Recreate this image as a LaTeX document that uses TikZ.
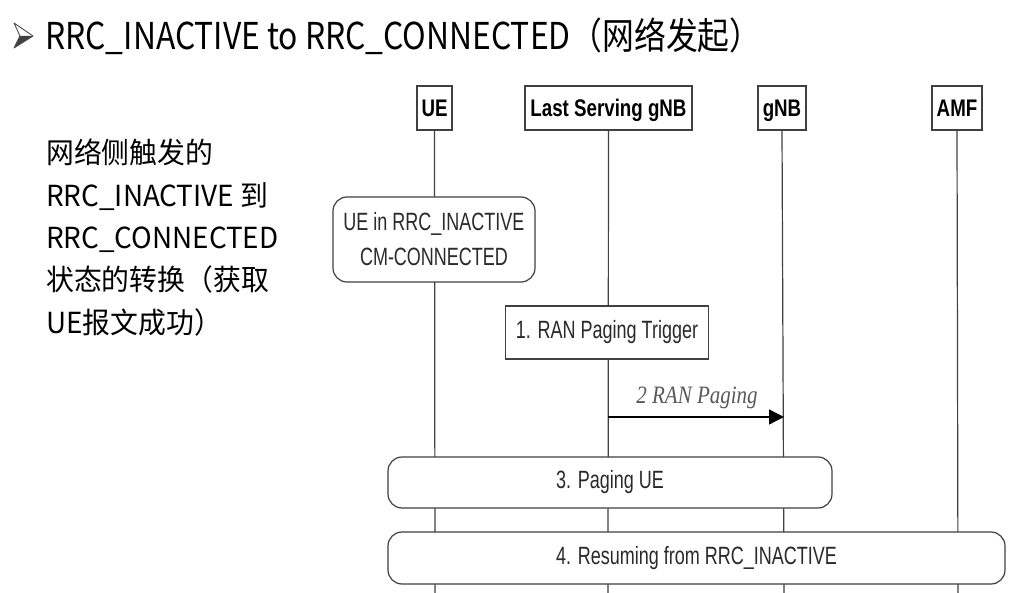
\documentclass[tikz,border=0pt]{standalone}
\usepackage{fontspec}
\usetikzlibrary{arrows.meta}
\setmainfont{Liberation Sans}
\newfontfamily\titlefont[FakeStretch=0.86]{Noto Sans CJK SC}
\newfontfamily\descfont[FakeStretch=0.96]{Noto Sans CJK SC}
\newfontfamily\narrowfont[FakeStretch=0.72]{Liberation Sans}
\newfontfamily\headfont[FakeStretch=0.78]{Liberation Sans}
\newfontfamily\msgfont[FakeStretch=0.84]{Liberation Serif}
\definecolor{lineclr}{HTML}{404040}
\definecolor{textclr}{HTML}{2A2A2A}
\tikzset{
  lifeline/.style={draw=lineclr, line width=1.2pt},
  headbox/.style={draw=lineclr, line width=1.4pt, fill=white, minimum height=44pt,
    inner sep=0pt, text height=17pt, text depth=0pt,
    font=\headfont\bfseries\fontsize{24}{26}\selectfont},
  stepbox/.style={draw=lineclr, line width=1.2pt, fill=white, inner sep=0pt,
    text=textclr, font=\narrowfont\fontsize{25}{35}\selectfont, align=center},
  roundbox/.style={stepbox, rounded corners=14pt},
  msgarrow/.style={draw=black, line width=1.3pt, -{Triangle[length=15pt,width=15pt]}},
}
\begin{document}
\begin{tikzpicture}[x=1pt,y=-1pt]
\useasboundingbox[fill=white] (0,0) rectangle (1022,593);

% heading bullet: a shaded arrowhead
\fill[black!75] (20,36) -- (33,36) -- (14,48) -- cycle;
\draw[black!70, line width=0.9pt, line join=round] (14,23) -- (33,36) -- (14,48) -- (20,36) -- cycle;
\node[anchor=base west, inner sep=0pt, font=\titlefont\fontsize{37}{40}\selectfont] (title) at (45,50)
  {RRC\_INACTIVE to RRC\_CONNECTED（网络发起）};

% description on the left
\node[anchor=north west, inner sep=0pt, align=left,
      font=\descfont\fontsize{29}{42.3}\selectfont] (desc) at (46,139)
  {网络侧触发的\\RRC\_INACTIVE 到\\RRC\_CONNECTED\\状态的转换（获取\\UE报文成功）};

% entities
\node[headbox, minimum width=35pt]  (ue)  at (434.5,108) {UE};
\node[headbox, minimum width=167pt] (lsg) at (608.5,108) {Last Serving gNB};
\node[headbox, minimum width=48pt]  (gnb) at (782,108) {gNB};
\node[headbox, minimum width=50pt]  (amf) at (957,108) {AMF};

\coordinate (ueEnd)  at (435,593);
\coordinate (lsgEnd) at (608,593);
\coordinate (gnbEnd) at (784,593);
\coordinate (amfEnd) at (958,593);

% lifelines
\draw[lifeline] (ue.south)  -- (ueEnd);
\draw[lifeline] (lsg.south) -- (lsgEnd);
\draw[lifeline] (gnb.south) -- (gnbEnd);
\draw[lifeline] (amf.south) -- (amfEnd);

% state of the UE
\node[roundbox, minimum width=202pt, minimum height=85pt] (state) at (434,239.5)
  {UE in RRC\_INACTIVE\\CM-CONNECTED};

% step 1
\node[stepbox, minimum width=203pt, minimum height=53pt] (s1) at (607,332.5)
  {1. RAN Paging Trigger};

% step 2
\coordinate (p2a) at (608,417);
\coordinate (p2b) at (784,417);
\draw[msgarrow] (p2a) -- (p2b);
\node[anchor=base, inner sep=0pt, text=black!65,
      font=\msgfont\itshape\fontsize{25}{27}\selectfont] (m2) at (697,403) {2 RAN Paging};

% step 3
\node[roundbox, minimum width=444pt, minimum height=51pt] (s3) at (610,482.5)
  {3. Paging UE};

% step 4
\node[roundbox, minimum width=617pt, minimum height=52pt] (s4) at (696.5,558)
  {4. Resuming from RRC\_INACTIVE};
\end{tikzpicture}
\end{document}
